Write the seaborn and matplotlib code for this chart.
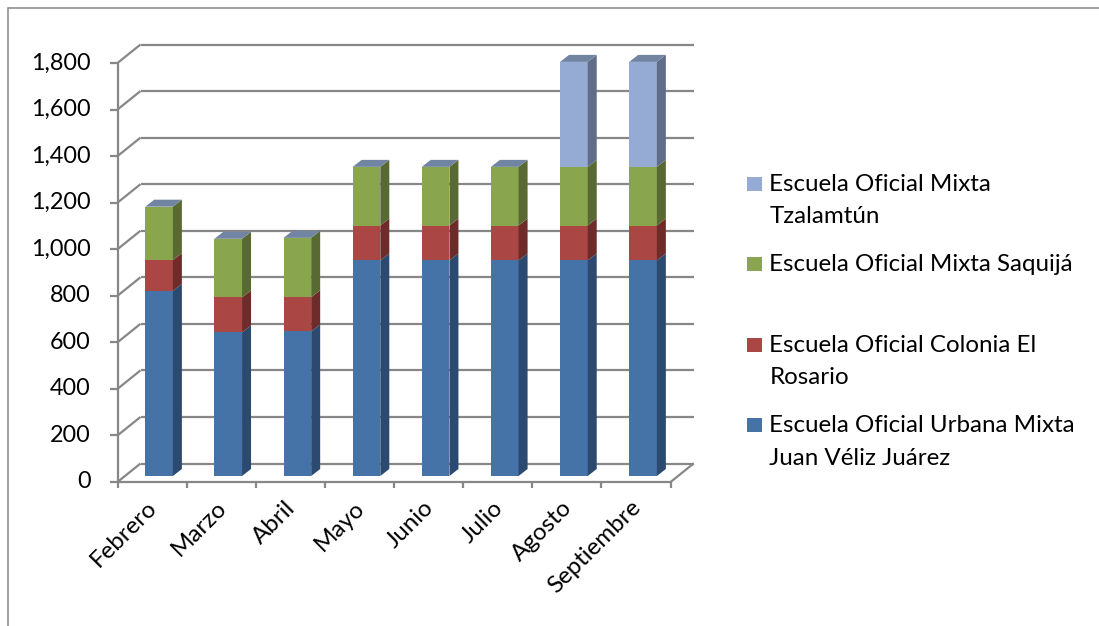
import matplotlib
matplotlib.use("Agg")
import matplotlib.pyplot as plt
from matplotlib.patches import Polygon, Rectangle
from matplotlib.lines import Line2D
import numpy as np
import seaborn as sns

# --- data -------------------------------------------------------------
meses = ["Febrero", "Marzo", "Abril", "Mayo", "Junio", "Julio", "Agosto", "Septiembre"]
urbana_juan_veliz = [795, 617, 621, 926, 926, 926, 926, 926]
colonia_el_rosario = [132, 150, 147, 150, 150, 150, 150, 150]
mixta_saquija = [230, 252, 255, 252, 252, 252, 252, 252]
mixta_tzalamtun = [0, 0, 0, 0, 0, 0, 451, 451]

series_labels = [
    ["Escuela Oficial Urbana Mixta", "Juan Véliz Juárez"],
    ["Escuela Oficial Colonia El", "Rosario"],
    ["Escuela Oficial Mixta Saquijá"],
    ["Escuela Oficial Mixta", "Tzalamtún"],
]
y_ticks = [0, 200, 400, 600, 800, 1000, 1200, 1400, 1600, 1800]

# --- style ------------------------------------------------------------
front_colors = ["#4572A7", "#AA4643", "#89A54E", "#95ABD3"]
side_colors = ["#2C4A70", "#6D2B29", "#586A32", "#5F6D88"]
top_color = "#7184A1"
grid_color = "#878787"
FS = 16.8
FS_LABEL = 17.4

sns.set_style("white")
plt.rcParams["font.family"] = ["Lato", "DejaVu Sans"]

W_PX, H_PX = 1099, 626
fig = plt.figure(figsize=(W_PX / 100, H_PX / 100), dpi=100)
fig.patch.set_facecolor("white")

# plot plane of the bar fronts (pixel geometry)
left_px, right_px = 124.5, 677.6
base_px, top_px = 476.0, 57.0
ax = fig.add_axes([left_px / W_PX, 1 - base_px / H_PX,
                   (right_px - left_px) / W_PX, (base_px - top_px) / H_PX])

n = len(meses)
ymax = y_ticks[-1]
ppx = (right_px - left_px) / n          # pixels per category
ppy = (base_px - top_px) / ymax         # pixels per unit

def ux(px):
    return px / ppx

def uy(px):
    return px / ppy

# depth offsets (pixels): front edge, bar depth, back wall
FDX, FDY = 7.0, 6.0
BDX, BDY = 9.0, 7.0
WDX, WDY = 16.0, 12.5

layers = [urbana_juan_veliz, colonia_el_rosario, mixta_saquija, mixta_tzalamtun]
cum = np.cumsum(np.array(layers, dtype=float), axis=0)
bottoms = np.vstack([np.zeros(n), cum[:-1]])

# stacked fronts: tallest cumulative first, then shorter layers over it
for k in reversed(range(len(layers))):
    sns.barplot(x=meses, y=cum[k], color=front_colors[k], saturation=1,
                width=0.4, errorbar=None, linewidth=0, zorder=3, ax=ax)

ax.set_xlim(-0.5, n - 0.5)
ax.set_ylim(0, ymax)
ax.axis("off")

bars = ax.patches[-n:]
for i, bar in enumerate(bars):
    xl = bar.get_x()
    xr = xl + bar.get_width()
    top_val = 0
    for k in range(len(layers)):
        b, t = bottoms[k][i], cum[k][i]
        if t <= b:
            continue
        ax.add_patch(Polygon([(xr, b), (xr + ux(BDX), b + uy(BDY)),
                              (xr + ux(BDX), t + uy(BDY)), (xr, t)],
                             closed=True, facecolor=side_colors[k],
                             edgecolor="none", zorder=3, clip_on=False))
        top_val = t
    ax.add_patch(Polygon([(xl, top_val), (xr, top_val),
                          (xr + ux(BDX), top_val + uy(BDY)),
                          (xl + ux(BDX), top_val + uy(BDY))],
                         closed=True, facecolor=top_color, edgecolor="none",
                         zorder=3, clip_on=False))

# walls, floor and front axis
x0, x1 = -0.5, n - 0.5
fx0, fx1 = x0 - ux(FDX), x1 - ux(FDX)
bx0, bx1 = x0 + ux(WDX), x1 + ux(WDX)
line_kw = dict(color=grid_color, lw=1.6, clip_on=False, solid_capstyle="butt")
for v in y_ticks:
    fy = v - uy(FDY)
    by = v + uy(WDY)
    ax.plot([bx0, bx1], [by, by], zorder=1, **line_kw)           # back wall
    ax.plot([fx0, bx0], [fy, by], zorder=1, **line_kw)           # side wall
    ax.plot([fx0 - ux(7), fx0], [fy, fy], zorder=4, **line_kw)   # tick
    ax.text(fx0 - ux(26.5), fy, f"{v:,}", ha="right", va="center",
            fontsize=FS, color="black")
ax.plot([fx0, fx0], [-uy(FDY), ymax - uy(FDY)], zorder=4, **line_kw)
ax.plot([fx0, fx1], [-uy(FDY), -uy(FDY)], zorder=4, **line_kw)
ax.plot([fx1, bx1], [-uy(FDY), uy(WDY)], zorder=1, **line_kw)
for j in range(n + 1):
    xx = j - 0.5 - ux(FDX)
    ax.plot([xx, xx], [-uy(FDY), -uy(FDY + 6)], zorder=4, **line_kw)

for i, m in enumerate(meses):
    ax.text(i - ux(FDX) + ux(9), -uy(FDY + 15), m, rotation=45,
            ha="right", va="top", fontsize=FS_LABEL, color="black")

# legend
def fxy(x, y):
    return x / W_PX, 1 - y / H_PX

legend_base = [432.3, 351.7, 271.0, 190.7]
for k in range(len(layers)):
    yb = legend_base[k]
    rx, ry = fxy(747.3, yb)
    fig.patches.append(Rectangle((rx, ry), 14.5 / W_PX, 14 / H_PX,
                                 transform=fig.transFigure,
                                 facecolor=front_colors[k], edgecolor="none"))
    for li, line in enumerate(series_labels[k]):
        tx, ty = fxy(769.3, yb + 32.5 * li)
        fig.text(tx, ty, line, ha="left", va="baseline", fontsize=FS_LABEL,
                 color="black")

# outer frame
fig.lines.append(Line2D([7.5 / W_PX, 1.0], [1 - 7.5 / H_PX, 1 - 7.5 / H_PX],
                        transform=fig.transFigure, color="#868686", lw=1.1))
fig.lines.append(Line2D([7.5 / W_PX, 7.5 / W_PX], [0.0, 1 - 7.5 / H_PX],
                        transform=fig.transFigure, color="#868686", lw=1.1))

fig.savefig("out.png", dpi=100, facecolor="white")
